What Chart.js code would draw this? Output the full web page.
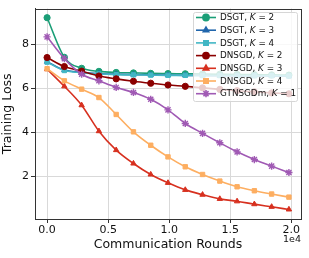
<!DOCTYPE html>
<html>
<head>
<meta charset="utf-8">
<script src="https://cdn.jsdelivr.net/npm/chart.js@4.4.1/dist/chart.umd.min.js"></script>
<style>
  html, body { margin: 0; padding: 0; background: #fff; }
  #wrap { width: 309px; height: 258px; }
</style>
</head>
<body>
<div id="wrap"><canvas id="c" width="309" height="258"></canvas></div>
<script>
// communication rounds (x values)
const rounds = [0, 1414, 2829, 4243, 5657, 7071, 8486, 9900, 11314, 12729, 14143, 15557, 16971, 18386, 19800];

const dsgtK2 = [9.22, 7.42, 6.92, 6.78, 6.73, 6.71, 6.69, 6.68, 6.67, 6.66, 6.65, 6.64, 6.63, 6.62, 6.61];
const dsgtK3 = [7.22, 6.84, 6.74, 6.68, 6.65, 6.63, 6.62, 6.61, 6.60, 6.59, 6.58, 6.58, 6.57, 6.57, 6.56];
const dsgtK4 = [7.20, 6.82, 6.72, 6.66, 6.63, 6.62, 6.61, 6.60, 6.60, 6.59, 6.59, 6.58, 6.58, 6.58, 6.57];
const dnsgdK2 = [7.41, 7.00, 6.79, 6.57, 6.44, 6.33, 6.24, 6.16, 6.10, 6.03, 5.96, 5.90, 5.85, 5.80, 5.76];
const dnsgdK3 = [6.88, 6.10, 5.24, 4.06, 3.20, 2.59, 2.09, 1.71, 1.39, 1.17, 0.98, 0.87, 0.74, 0.62, 0.50];
const dnsgdK4 = [6.90, 6.35, 5.97, 5.59, 4.82, 4.03, 3.42, 2.89, 2.44, 2.09, 1.79, 1.53, 1.35, 1.20, 1.06];
const gtnsgdm = [8.35, 7.36, 6.65, 6.35, 6.05, 5.82, 5.51, 5.03, 4.41, 3.96, 3.53, 3.12, 2.77, 2.47, 2.18];

const xTicks = [0, 5000, 10000, 15000, 20000];
const yTicks = [2, 4, 6, 8];

// label parts: method and K value
const series = [
  { name: 'DSGT', k: '2', data: dsgtK2, color: '#1b9e77', marker: 'circle' },
  { name: 'DSGT', k: '3', data: dsgtK3, color: '#2166ac', marker: 'triangle' },
  { name: 'DSGT', k: '4', data: dsgtK4, color: '#41b6c4', marker: 'rect' },
  { name: 'DNSGD', k: '2', data: dnsgdK2, color: '#8b0000', marker: 'circle' },
  { name: 'DNSGD', k: '3', data: dnsgdK3, color: '#d7301f', marker: 'triangle' },
  { name: 'DNSGD', k: '4', data: dnsgdK4, color: '#fdae61', marker: 'rect' },
  { name: 'GTNSGDm', k: '1', data: gtnsgdm, color: '#a05ab4', marker: 'star' },
];

const FONT = 'DejaVu Sans';
const radiusOf = (m) => m === 'star' ? 3.6 : 3.1;

const datasets = series.map((s, i) => ({
  label: s.name + ', K = ' + s.k,
  data: s.data.map((v, j) => ({ x: rounds[j], y: v })),
  borderColor: s.color,
  backgroundColor: s.color,
  borderWidth: 1.6,
  pointStyle: s.marker,
  pointRadius: radiusOf(s.marker),
  pointBorderWidth: s.marker === 'star' ? 1.4 : 1,
  cubicInterpolationMode: 'monotone',
  order: series.length - i,
}));

// box, legend and offset text like matplotlib
const extras = {
  id: 'extras',
  afterDatasetsDraw(chart) {
    const ctx = chart.ctx;
    const a = chart.chartArea;
    ctx.save();
    ctx.strokeStyle = '#333';
    ctx.lineWidth = 1;
    ctx.strokeRect(Math.round(a.left) + 0.5, Math.round(a.top) + 0.5,
      Math.round(a.right - a.left), Math.round(a.bottom - a.top));

    // legend
    const lx = 193, ly = 12, lw = 104, lh = 89, row = 12.7;
    ctx.fillStyle = 'rgba(255,255,255,0.8)';
    ctx.strokeStyle = '#d6d6d6';
    ctx.beginPath();
    ctx.roundRect(lx + 0.5, ly + 0.5, lw, lh, 2);
    ctx.fill();
    ctx.stroke();
    series.forEach((s, i) => {
      const y = ly + 5.5 + i * row;
      ctx.strokeStyle = s.color;
      ctx.fillStyle = s.color;
      ctx.lineWidth = 1.6;
      ctx.beginPath();
      ctx.moveTo(lx + 3, y);
      ctx.lineTo(lx + 23, y);
      ctx.stroke();
      Chart.helpers.drawPoint(ctx, {
        pointStyle: s.marker,
        radius: radiusOf(s.marker),
        borderWidth: 1,
      }, lx + 13, y);
      ctx.fillStyle = '#111';
      ctx.textBaseline = 'middle';
      let tx = lx + 27;
      ctx.font = '8.8px "' + FONT + '"';
      const p1 = s.name + ', ';
      ctx.fillText(p1, tx, y + 0.5);
      tx += ctx.measureText(p1).width;
      ctx.font = 'italic 8.8px "' + FONT + '"';
      ctx.fillText('K', tx, y + 0.5);
      tx += ctx.measureText('K').width;
      ctx.font = '8.8px "' + FONT + '"';
      ctx.fillText(' = ' + s.k, tx, y + 0.5);
    });

    // 1e4 offset
    ctx.fillStyle = '#111';
    ctx.font = '9.5px "' + FONT + '"';
    ctx.textAlign = 'right';
    ctx.textBaseline = 'middle';
    ctx.fillText('1e4', a.right, 240);
    ctx.restore();
  }
};

new Chart(document.getElementById('c'), {
  type: 'line',
  data: { datasets: datasets },
  options: {
    responsive: false,
    animation: false,
    events: [],
    layout: { padding: { top: 8, right: 8, left: 0, bottom: 6 } },
    plugins: { legend: { display: false }, tooltip: { enabled: false } },
    scales: {
      x: {
        type: 'linear',
        min: -990,
        max: 20790,
        afterBuildTicks: (scale) => { scale.ticks = xTicks.map(v => ({ value: v })); },
        afterFit: (scale) => { scale.height = 33; },
        ticks: {
          color: '#111',
          font: { family: FONT, size: 11 },
          padding: 1,
          maxRotation: 0,
          callback: (v) => (v / 1e4).toFixed(1),
        },
        grid: { color: '#d9d9d9', tickColor: '#333', tickLength: 4 },
        border: { color: '#333' },
        title: {
          display: true,
          text: 'Communication Rounds',
          color: '#111',
          font: { family: FONT, size: 12.5 },
          padding: { top: 0, bottom: 0 },
        },
      },
      y: {
        min: 0.065,
        max: 9.635,
        afterBuildTicks: (scale) => { scale.ticks = yTicks.map(v => ({ value: v })); },
        afterFit: (scale) => { scale.width = 35; },
        ticks: {
          color: '#111',
          font: { family: FONT, size: 11 },
          padding: 2,
          callback: (v) => String(v),
        },
        grid: { color: '#d9d9d9', tickColor: '#333', tickLength: 4 },
        border: { color: '#333' },
        title: {
          display: true,
          text: 'Training Loss',
          color: '#111',
          font: { family: FONT, size: 12.5 },
          padding: { top: 0, bottom: 0 },
        },
      },
    },
  },
  plugins: [extras],
});
</script>
</body>
</html>
